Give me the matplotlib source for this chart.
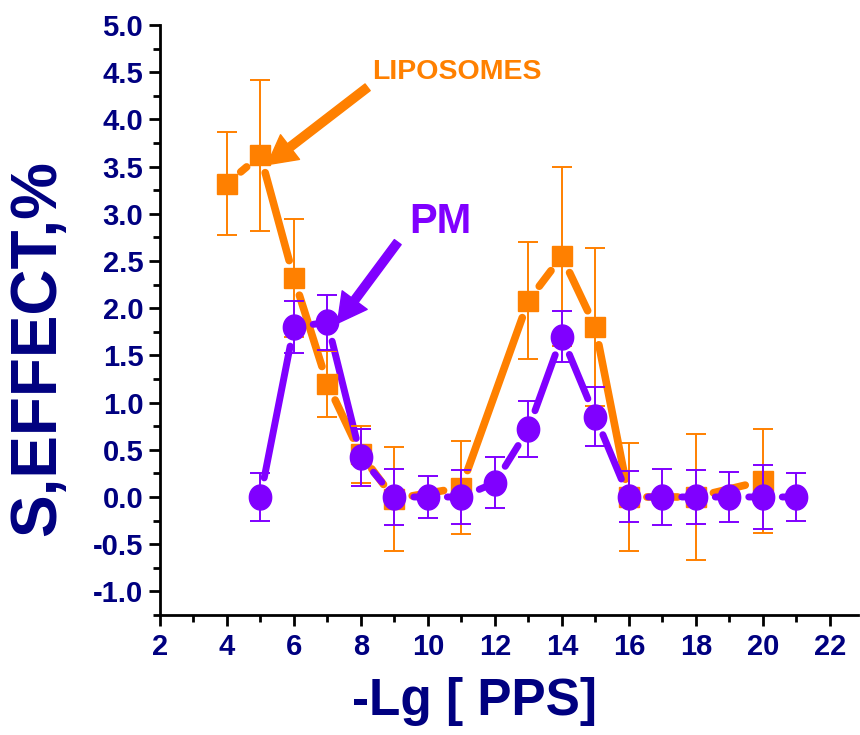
import numpy as np
import matplotlib
matplotlib.use("Agg")
import matplotlib.pyplot as plt
from matplotlib.path import Path
from matplotlib.ticker import MultipleLocator

# data
lip_x = [4, 5, 6, 7, 8, 9, 11, 13, 14, 15, 16, 18, 20]
lip_y = [3.32, 3.62, 2.32, 1.20, 0.45, -0.02, 0.10, 2.08, 2.55, 1.80, 0.00, 0.00, 0.17]
lip_err = [0.55, 0.80, 0.62, 0.35, 0.30, 0.55, 0.49, 0.62, 0.95, 0.84, 0.57, 0.67, 0.55]

pm_x = [5, 6, 7, 8, 9, 10, 11, 12, 13, 14, 15, 16, 17, 18, 19, 20, 21]
pm_y = [0.00, 1.80, 1.85, 0.42, 0.00, 0.00, 0.00, 0.15, 0.72, 1.70, 0.85, 0.00, 0.00, 0.00, 0.00, 0.00, 0.00]
pm_err = [0.25, 0.28, 0.29, 0.30, 0.30, 0.22, 0.29, 0.27, 0.30, 0.27, 0.31, 0.27, 0.30, 0.29, 0.26, 0.34, 0.25]

ORANGE = "#FF8000"
PURPLE = "#8000FF"
NAVY = "#000080"

plt.rcParams["font.family"] = ["Liberation Sans", "DejaVu Sans"]
plt.rcParams["font.weight"] = "bold"

fig = plt.figure(figsize=(8.6, 7.35), dpi=100)
ax = fig.add_axes([0.186, 0.1633, 0.8116, 0.8027])
ax.set_xlim(2, 22.84)
ax.set_ylim(-1.25, 5.0)

# slightly tall ellipse marker like the original
t = np.linspace(0, 2 * np.pi, 60)
ell = Path(np.column_stack([np.cos(t), 1.12 * np.sin(t)]), closed=True)


def gapped_line(xs, ys, color, lw, gap):
    # Origin style: segments stop short of the markers
    for i in range(len(xs) - 1):
        ax.annotate("", xy=(xs[i + 1], ys[i + 1]), xytext=(xs[i], ys[i]),
                    arrowprops=dict(arrowstyle="-", color=color, lw=lw,
                                    shrinkA=gap, shrinkB=gap, capstyle="round"),
                    zorder=2)


gapped_line(lip_x, lip_y, ORANGE, 5.5, 13)
ax.errorbar(lip_x, lip_y, yerr=lip_err, fmt="none", ecolor=ORANGE,
            elinewidth=1.4, capsize=7, capthick=1.4, zorder=3)
ax.plot(lip_x, lip_y, ls="none", marker="s", ms=14.5, color=ORANGE, zorder=4)

gapped_line(pm_x, pm_y, PURPLE, 5, 14)
ax.errorbar(pm_x, pm_y, yerr=pm_err, fmt="none", ecolor=PURPLE,
            elinewidth=1.4, capsize=7, capthick=1.4, zorder=5)
ax.plot(pm_x, pm_y, ls="none", marker=ell, ms=18, color=PURPLE, zorder=6)

# labels with arrows
ax.text(8.33, 4.50, "LIPOSOMES", color=ORANGE, fontsize=20.5,
        va="center", ha="left")
ax.annotate("", xy=(5.2, 3.52), xytext=(8.2, 4.34),
            arrowprops=dict(arrowstyle="simple,head_length=1.3,head_width=1.4,tail_width=0.38",
                            color=ORANGE, mutation_scale=16, shrinkA=0, shrinkB=0))
ax.text(9.45, 2.91, "PM", color=PURPLE, fontsize=30, va="center", ha="left")
ax.annotate("", xy=(7.3, 1.84), xytext=(9.1, 2.7),
            arrowprops=dict(arrowstyle="simple,head_length=1.3,head_width=1.4,tail_width=0.38",
                            color=PURPLE, mutation_scale=16, shrinkA=0, shrinkB=0))

# axes styling
for s in ["top", "right"]:
    ax.spines[s].set_visible(False)
for s in ["left", "bottom"]:
    ax.spines[s].set_linewidth(2)

ax.xaxis.set_major_locator(MultipleLocator(2))
ax.xaxis.set_minor_locator(MultipleLocator(1))
ax.yaxis.set_minor_locator(MultipleLocator(0.25))
ax.set_yticks(np.arange(-1.0, 5.01, 0.5))
ax.set_yticklabels([f"{v:.1f}" for v in np.arange(-1.0, 5.01, 0.5)])
ax.tick_params(which="major", direction="out", length=8, width=2, pad=4,
               labelcolor=NAVY)
ax.tick_params(which="minor", direction="out", length=5, width=2)
ax.tick_params(axis="x", labelsize=21, pad=5)
ax.tick_params(axis="y", labelsize=21)

fig.text(0.044, 0.527, "S,EFFECT,%", rotation=90, color=NAVY, fontsize=46,
         ha="center", va="center")
fig.text(0.552, 0.045, "-Lg [ PPS]", color=NAVY, fontsize=37,
         ha="center", va="center")

fig.savefig("out.png", dpi=100)
